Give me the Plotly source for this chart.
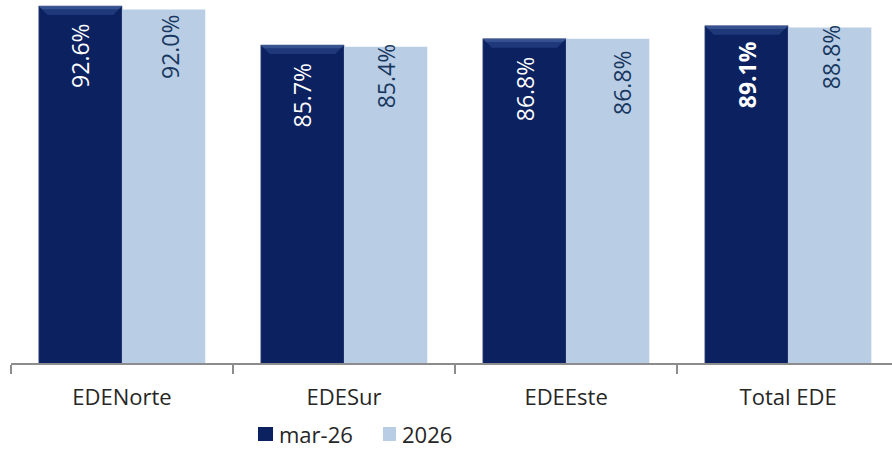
import plotly.graph_objects as go

categories = ["EDENorte", "EDESur", "EDEEste", "Total EDE"]
series_names = ["mar-26", "2026"]
mar26 = [92.6, 85.7, 86.8, 89.1]
y2026 = [92.0, 85.4, 86.8, 88.8]

DARK = "#0B2160"
LIGHT = "#B9CDE5"
LABEL_DARK = "#17375E"
FONT = "Open Sans"

W, H = 892, 449
ML, MR, MT, MB = 11, 0, 0, 86
PW = W - ML - MR
PH = H - MT - MB
Y_RANGE = [29.44, 93.66]
X_RANGE = [-0.5, 3.468]
BARGAP = 0.25

fig = go.Figure()
fig.add_trace(go.Bar(x=categories, y=mar26, name=series_names[0],
                     marker=dict(color=DARK, line=dict(color="#55668a", width=0.6)),
                     showlegend=False, hoverinfo="skip"))
fig.add_trace(go.Bar(x=categories, y=y2026, name=series_names[1],
                     marker=dict(color=LIGHT, line=dict(width=0)),
                     showlegend=False, hoverinfo="skip"))

# bevel highlight on top of dark bars (computed from data)
px_per_unit_y = PH / (Y_RANGE[1] - Y_RANGE[0])
px_per_unit_x = PW / (X_RANGE[1] - X_RANGE[0])
bev_h = 9 / px_per_unit_y
bev_w = 9 / px_per_unit_x
half = (1 - BARGAP) / 2
for i, v in enumerate(mar26):
    x0, x1 = i - half, i
    path = (f"M {x0},{v} L {x1},{v} L {x1 - bev_w},{v - bev_h} "
            f"L {x0 + bev_w},{v - bev_h} Z")
    fig.add_shape(type="path", path=path, xref="x", yref="y",
                  fillcolor="#2F4C8E", opacity=0.55, line=dict(width=0), layer="above")
    path2 = (f"M {x0},{v} L {x1},{v} L {x1 - bev_w*0.35},{v - bev_h*0.35} "
             f"L {x0 + bev_w*0.35},{v - bev_h*0.35} Z")
    fig.add_shape(type="path", path=path2, xref="x", yref="y",
                  fillcolor="#5570AA", opacity=0.45, line=dict(width=0), layer="above")

# data labels (rotated)
bar_off = 41.6
dark_dy = [-49.5, -50, -50, -49]
light_dy = [-37, -29, -43.5, -29.5]
light_dx = [7, 0, 15, 1.5]
for i, c in enumerate(categories):
    txt = f"{mar26[i]:.1f}%"
    if c == "Total EDE":
        txt = f"<b>{txt}</b>"
    fig.add_annotation(x=c, y=mar26[i], xref="x", yref="y", text=txt,
                       textangle=-90, showarrow=False, xanchor="center", yanchor="middle",
                       xshift=-bar_off, yshift=dark_dy[i],
                       font=dict(family=FONT, size=23, color="white"))
    fig.add_annotation(x=c, y=y2026[i], xref="x", yref="y", text=f"{y2026[i]:.1f}%",
                       textangle=-90, showarrow=False, xanchor="center", yanchor="middle",
                       xshift=bar_off + light_dx[i], yshift=light_dy[i],
                       font=dict(family=FONT, size=23, color=LABEL_DARK))

# custom legend
def px2paper_x(px):
    return (px - ML) / PW

def px2paper_y(py):
    return (MT + PH - py) / PH

legend_items = [(series_names[0], DARK, 258, 273, 277), (series_names[1], LIGHT, 383, 396, 400)]
for name, col, x0, x1, tx in legend_items:
    fig.add_shape(type="rect", xref="paper", yref="paper",
                  x0=px2paper_x(x0), x1=px2paper_x(x1),
                  y0=px2paper_y(441), y1=px2paper_y(427),
                  fillcolor=col, line=dict(width=0))
    fig.add_annotation(x=px2paper_x(tx), y=px2paper_y(434), xref="paper", yref="paper",
                       text=name, showarrow=False, xanchor="left", yanchor="middle",
                       font=dict(family=FONT, size=22, color="#262626"))

fig.update_layout(
    width=W, height=H,
    margin=dict(l=ML, r=MR, t=MT, b=MB),
    paper_bgcolor="white", plot_bgcolor="white",
    barmode="group", bargap=BARGAP, bargroupgap=0,
    showlegend=False,
    font=dict(family=FONT),
)
fig.update_xaxes(type="category", range=X_RANGE, tickson="boundaries",
                 ticks="outside", ticklen=9, tickcolor="#8C8C8C", tickwidth=1.5,
                 showline=True, linecolor="#8C8C8C", linewidth=1.5,
                 ticklabelstandoff=14,
                 showgrid=False, tickfont=dict(family=FONT, size=22, color="#262626"))
fig.update_yaxes(range=Y_RANGE, visible=False, showgrid=False)

fig.write_html("out.html", config={"displayModeBar": False},
               post_script="document.body.style.margin='0';document.body.style.overflow='hidden';")
